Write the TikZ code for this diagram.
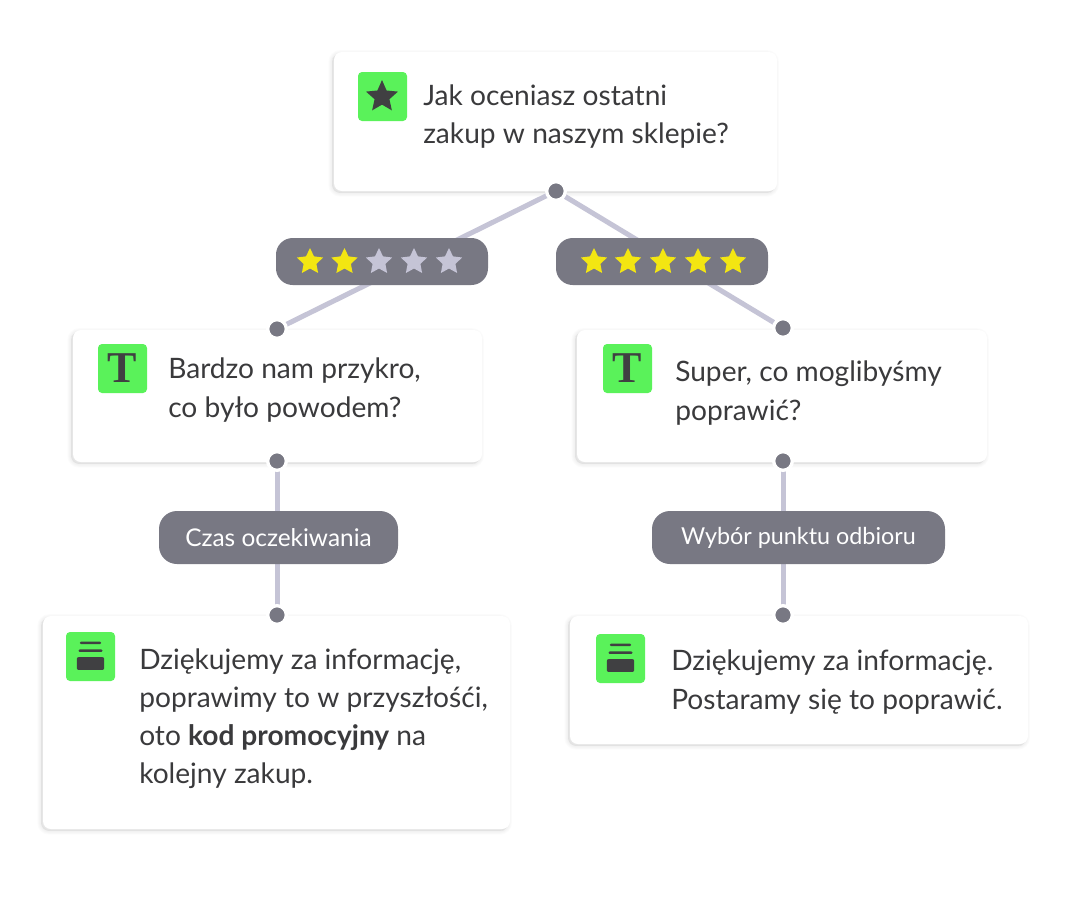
\documentclass[tikz,border=0pt]{standalone}
\usepackage{fontspec}
\setmainfont{Lato}
\newfontfamily\tfont{Liberation Serif}
\usetikzlibrary{shapes.geometric,shadows}
\definecolor{ink}{HTML}{3A3A3C}
\definecolor{pillgrey}{HTML}{787883}
\definecolor{linegrey}{HTML}{C5C4D6}
\definecolor{icongreen}{HTML}{5AF25A}
\definecolor{staryellow}{HTML}{F3E612}
\definecolor{icondark}{HTML}{404042}
\tikzset{
  x=.75pt,y=-.75pt,
  softshadow/.style={general shadow={fill=black!50,draw=black!50,line width=#1,opacity=.022,shadow xshift=-1.4pt,shadow yshift=-1.4pt}},
  cardbox/.style={shape=rectangle,fill=white,rounded corners=6pt,inner sep=0pt,
    softshadow=5.6pt,softshadow=4.4pt,softshadow=3.2pt,softshadow=2pt,softshadow=.8pt},
  conn/.style={draw=linegrey,line width=3.75pt},
  dotmark/.style={shape=circle,fill=pillgrey,draw=white,line width=2.5pt,inner sep=0pt,minimum size=14pt},
  starpill/.style={shape=rectangle,fill=pillgrey,rounded corners=12.5pt,inner sep=0pt,minimum width=159pt,minimum height=35.25pt},
  textpill/.style={shape=rectangle,fill=pillgrey,rounded corners=13.5pt,inner sep=0pt,minimum height=39.75pt,text=white},
  ratestar/.style={shape=star,star points=5,star point ratio=2.05,inner sep=0pt,minimum size=20.7pt,draw=none},
  iconbox/.style={shape=rectangle,fill=icongreen,rounded corners=3pt,inner sep=0pt,minimum size=36.75pt},
  cardtext/.style={anchor=north west,align=left,inner sep=0pt,text=ink,font=\fontsize{21.1pt}{28.6pt}\selectfont},
  darkfill/.style={fill=icondark,draw=none},
}
\newcommand{\archiveglyph}[1]{%
  \fill[darkfill,rounded corners=.8pt] ([xshift=-7.9pt,yshift=11.2pt]#1.center) rectangle ([xshift=7.9pt,yshift=9.3pt]#1.center);
  \fill[darkfill,rounded corners=.8pt] ([xshift=-9pt,yshift=5.3pt]#1.center) rectangle ([xshift=9pt,yshift=3.4pt]#1.center);
  \fill[darkfill,rounded corners=1.5pt] ([xshift=-10.3pt,yshift=-.4pt]#1.center) rectangle ([xshift=10.3pt,yshift=-10.1pt]#1.center);
}
\begin{document}
\begin{tikzpicture}
\useasboundingbox[fill=white] (0,0) rectangle (1081,900);
% cards
\node[cardbox,minimum width=332.25pt,minimum height=104.25pt] (cTop) at (555.5,121.5) {};
\node[cardbox,minimum width=306.75pt,minimum height=99pt] (cLeft) at (277.5,396) {};
\node[cardbox,minimum width=307.5pt,minimum height=99pt] (cRight) at (782,396) {};
\node[cardbox,minimum width=350.25pt,minimum height=159.75pt] (cLL) at (276.5,722.5) {};
\node[cardbox,minimum width=343.5pt,minimum height=96pt] (cRR) at (799,680) {};
% dots (positions first so the connectors can use them)
\coordinate (pTop) at (556,191);
\coordinate (pL1) at (277,329);
\coordinate (pR1) at (783,328);
\coordinate (pL2) at (277,461);
\coordinate (pR2) at (783,461);
\coordinate (pL3) at (277,615);
\coordinate (pR3) at (783,615);
% connectors
\draw[conn] (pTop) -- (pL1);
\draw[conn] (pTop) -- (pR1);
\draw[conn] (pL2) -- (pL3);
\draw[conn] (pR2) -- (pR3);
% dots
\foreach \p in {pTop,pL1,pR1,pL2,pR2,pL3,pR3}
  \node[dotmark] (d\p) at (\p) {};
% star pills
\node[starpill] (pillLow) at (382,261.5) {};
\node[starpill] (pillHigh) at (662,261.5) {};
\foreach \x/\c [count=\i] in {310/staryellow,344.5/staryellow,379/linegrey,414/linegrey,449/linegrey}
  \node[ratestar,fill=\c] (lowstar\i) at (\x,261.8) {};
\foreach \x [count=\i] in {594,628,663,698,733}
  \node[ratestar,fill=staryellow] (highstar\i) at (\x,261.8) {};
% text pills
\node[textpill,minimum width=179.25pt,font=\fontsize{18.3pt}{22pt}\selectfont] (pillA) at (278.5,537.5) {Czas oczekiwania};
\node[textpill,minimum width=219.75pt,font=\fontsize{17.5pt}{22pt}\selectfont] (pillB) at (798.5,537.5) {Wybór punktu odbioru};
% icons
\node[iconbox] (iTop) at (382.5,96.5) {};
\node[ratestar,fill=icondark,minimum size=25.2pt,star point ratio=2.15] (iStar) at (382,96.8) {};
\node[iconbox] (iLeft) at (122.5,368.5) {};
\node[inner sep=0pt,text=icondark,font=\tfont\bfseries\fontsize{33pt}{33pt}\selectfont] (tLeft) at (122.5,368) {T};
\node[iconbox] (iRight) at (627.5,368.5) {};
\node[inner sep=0pt,text=icondark,font=\tfont\bfseries\fontsize{33pt}{33pt}\selectfont] (tRight) at (627.5,368) {T};
\node[iconbox] (iLL) at (90.5,656.5) {};
\archiveglyph{iLL}
\node[iconbox] (iRR) at (620.5,658.5) {};
\archiveglyph{iRR}
% texts
\node[cardtext] (tTop) at (423,84.5) {Jak oceniasz ostatni\\zakup w naszym sklepie?};
\node[cardtext] (tL) at (168,358) {Bardzo nam przykro,\\co było powodem?};
\node[cardtext] (tR) at (675,361) {Super, co moglibyśmy\\poprawić?};
\node[cardtext] (tLL) at (139,648.5) {Dziękujemy za informację,\\poprawimy to w przyszłośći,\\oto \textbf{kod promocyjny} na\\kolejny zakup.};
\node[cardtext] (tRR) at (671,650) {Dziękujemy za informację.\\Postaramy się to poprawić.};
\end{tikzpicture}
\end{document}
